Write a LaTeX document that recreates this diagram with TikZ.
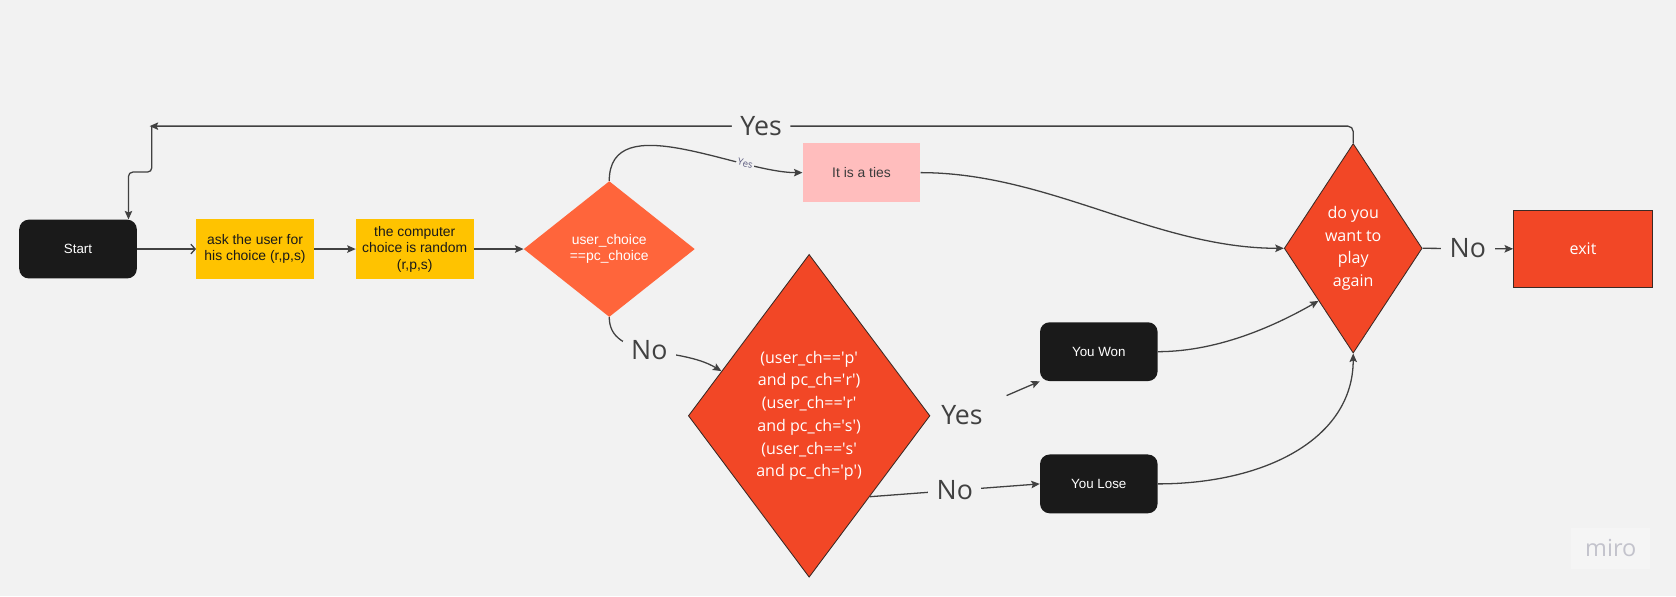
\documentclass[tikz,border=0pt]{standalone}
\usepackage{fontspec}
\setmainfont{Liberation Sans}
\newfontfamily\miro{Open Sans}
\usetikzlibrary{shapes.geometric,arrows.meta}
\definecolor{bg}{HTML}{F2F2F2}
\definecolor{ink}{HTML}{414141}
\definecolor{nearblack}{HTML}{1A1A1A}
\definecolor{amber}{HTML}{FFC300}
\definecolor{coral}{HTML}{FF653B}
\definecolor{redorange}{HTML}{F24726}
\definecolor{blush}{HTML}{FFBDBD}
\definecolor{rim}{HTML}{3B2A25}
\definecolor{slate}{HTML}{5D5D80}
\definecolor{brandgray}{HTML}{C3C3CC}
\newcommand{\q}{\textquotesingle}
\begin{document}
\begin{tikzpicture}[x=1pt,y=-1pt,
    conn/.style={draw=ink,line width=1.2pt,-{Stealth[length=8pt,width=7pt,inset=1.5pt]}},
    termbox/.style={rectangle,rounded corners=9pt,fill=nearblack,text=white,minimum width=110pt,minimum height=55pt,inner sep=0pt,font=\fontsize{12.5}{15}\selectfont},
    stepbox/.style={rectangle,fill=amber,text=nearblack,minimum width=110pt,minimum height=56pt,inner sep=0pt,align=center,font=\fontsize{13}{15.3}\selectfont},
    decision/.style={diamond,inner sep=0pt,text=white,align=center},
    biglabel/.style={fill=bg,text=ink,inner xsep=8pt,inner ysep=0pt,font=\miro\fontsize{25}{25}\selectfont}]

    % Marking background
    \fill [bg] (0.000000,0.000000) rectangle (1568.000000,558.000000);%
    \useasboundingbox (0.000000,0.000000) rectangle (1568.000000,558.000000);%

    % Marking node Start
    \draw (73.000000,233.000000) node (start) [termbox] {Start};%

    % Marking node ask
    \draw (238.600000,233.000000) node (ask) [stepbox] {ask the user for\\his choice (r,p,s)};%

    % Marking node pc
    \draw (388.000000,233.000000) node (pc) [stepbox] {the computer\\choice is random\\(r,p,s)};%

    % Marking node tiecheck
    \draw (570.000000,233.000000) node (tiecheck) [decision,fill=coral,minimum width=160pt,minimum height=127pt,shape aspect=1.26,font=\fontsize{13}{15.5}\selectfont] {user\_choice\\==pc\_choice};%

    % Marking node ties
    \draw (806.000000,161.500000) node (ties) [rectangle,fill=blush,text=nearblack!85,minimum width=110pt,minimum height=55pt,inner sep=0pt,font=\fontsize{13}{15}\selectfont] {It is a ties};%

    % Marking node wincheck
    \draw (757.000000,389.000000) node (wincheck) [decision,fill=redorange,draw=rim,line width=0.8pt,minimum width=226pt,minimum height=302pt,shape aspect=0.75,font=\miro\fontsize{15}{21.3}\selectfont] {(user\_ch==\q p\q\\and pc\_ch=\q r\q)\\(user\_ch==\q r\q\\and pc\_ch=\q s\q)\\(user\_ch==\q s\q\\and pc\_ch=\q p\q)};%

    % Marking node won
    \draw (1028.000000,329.000000) node (won) [termbox] {You Won};%

    % Marking node lose
    \draw (1028.000000,452.700000) node (lose) [termbox] {You Lose};%

    % Marking node again
    \draw (1266.000000,232.300000) node (again) [decision,fill=redorange,draw=rim,line width=0.8pt,minimum width=129pt,minimum height=196pt,shape aspect=0.66,font=\miro\fontsize{15}{21.3}\selectfont] {do you\\want to\\play\\again};%

    % Marking node exit
    \draw (1481.000000,232.800000) node (exit) [rectangle,fill=redorange,draw=rim,line width=0.8pt,text=white,minimum width=130pt,minimum height=72pt,font=\miro\fontsize{15}{18}\selectfont] {exit};%

    % Drawing straight connectors
    \draw [draw=ink,line width=1.2pt,-{Straight Barb[length=4pt,width=9pt]}] (start) -- (ask);%
    \draw [conn] (ask) -- (pc);%
    \draw [conn] (pc) -- (tiecheck);%

    % Drawing connector tiecheck to ties
    \draw [conn] (tiecheck.north) .. controls +(0,-70) and +(-60,0) .. node [pos=0.75,sloped,fill=bg,inner sep=1.5pt,text=slate,font=\miro\fontsize{9}{9}\selectfont] {Yes} (ties.west);%

    % Drawing connector tiecheck to wincheck
    \draw [conn] (tiecheck.south) .. controls +(0,40) and +(-40,-24) .. node [biglabel] {No} (wincheck.153);%

    % Drawing connector wincheck to won
    \draw (900.000000,388.000000) node (yeswon) [biglabel] {Yes};%
    \draw [conn,shorten <=22pt] (yeswon) -- (won.south west);%

    % Drawing connector wincheck to lose
    \draw [conn] (wincheck.south east) -- node [biglabel] {No} (lose.west);%

    % Drawing connectors into again
    \draw [conn] (won.east) .. controls +(60,0) and +(-35,20) .. (again.south west);%
    \draw [conn] (lose.east) .. controls +(100,0) and +(0,80) .. (again.south);%
    \draw [conn] (ties.east) .. controls +(120,0) and +(-120,0) .. (again.west);%

    % Drawing connector again to exit
    \draw [conn] (again.east) -- node [biglabel] {No} (exit.west);%

    % Drawing loop back to Start
    \coordinate (loopend) at (140.000000,118.000000);%
    \draw [conn,rounded corners=5pt] (again.north) |- node [biglabel,pos=0.746] {Yes} (loopend);%
    \draw [conn,rounded corners=4pt] ([xshift=2pt]loopend) -- ++(0,43) -| ([xshift=-8pt]start.north east);%

    % Marking watermark
    \fill [white,opacity=0.3] (1470.000000,494.000000) rectangle (1544.000000,532.000000);%
    \draw (1507.000000,513.000000) node (brand) [text=brandgray,font=\miro\fontsize{22}{22}\selectfont] {miro};%
\end{tikzpicture}
\end{document}
